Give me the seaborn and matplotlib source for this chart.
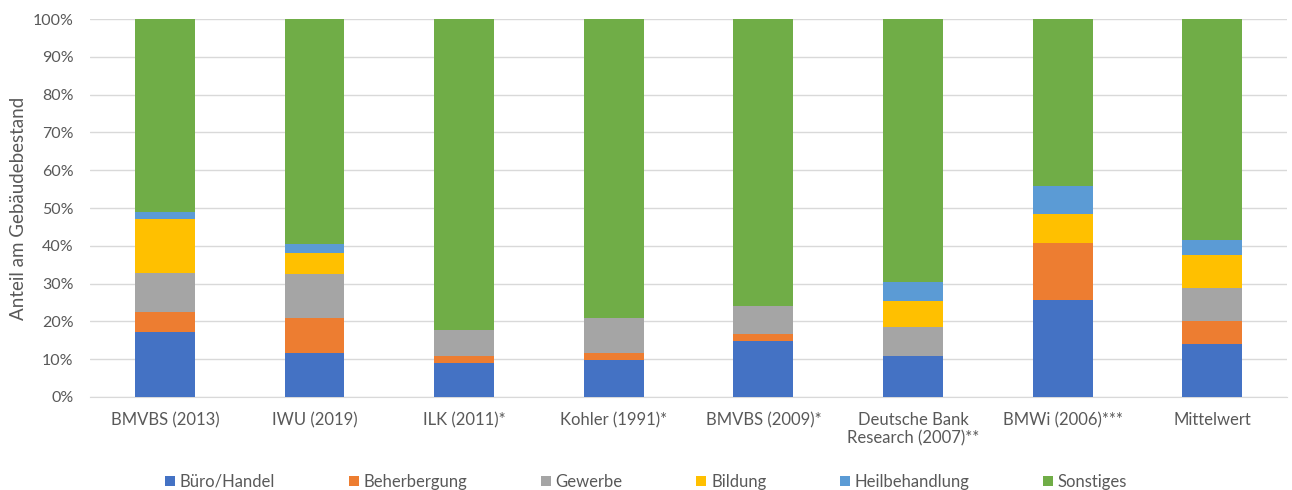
import numpy as np
import matplotlib.pyplot as plt
from matplotlib.ticker import PercentFormatter
from matplotlib.patches import Patch
import seaborn as sns

studien = ["BMVBS (2013)", "IWU (2019)", "ILK (2011)*", "Kohler (1991)*", "BMVBS (2009)*",
           "Deutsche Bank\nResearch (2007)**", "BMWi (2006)***", "Mittelwert"]

# Anteile in %
buero = [17.2, 11.7, 9.1, 9.8, 14.7, 10.9, 25.7, 14.1]
beherbergung = [5.4, 9.2, 1.8, 1.9, 2.0, 0.0, 15.1, 6.0]
gewerbe = [10.3, 11.5, 6.8, 9.3, 7.3, 7.7, 0.0, 8.7]
bildung = [14.3, 5.8, 0.0, 0.0, 0.0, 6.9, 7.5, 8.7]
heilbehandlung = [1.8, 2.4, 0.0, 0.0, 0.0, 4.8, 7.4, 4.1]
sonstiges = [51.0, 59.4, 82.3, 79.0, 76.0, 69.7, 44.3, 58.4]

kategorien = ["Büro/Handel", "Beherbergung", "Gewerbe", "Bildung", "Heilbehandlung", "Sonstiges"]
farben = ["#4472C4", "#ED7D31", "#A5A5A5", "#FFC000", "#5B9BD5", "#70AD47"]

sns.set_style("white")
plt.rcParams['font.family'] = ['Lato', 'DejaVu Sans']

fig = plt.figure(figsize=(12.92, 4.90), dpi=100)
ax = fig.add_axes([0.0697, 0.19, 0.9265, 0.771])

serien = np.array([buero, beherbergung, gewerbe, bildung, heilbehandlung, sonstiges])
kumuliert = np.cumsum(serien, axis=0)

# stacked bars: draw cumulative totals from top down so the lower ones overlay
for i in range(len(kategorien) - 1, -1, -1):
    sns.barplot(x=studien, y=kumuliert[i], color=farben[i], width=0.4,
                saturation=1, ax=ax, zorder=3, linewidth=0)

ax.set_ylim(0, 100)
ax.set_xlim(-0.5, len(studien) - 0.5)
ax.set_yticks(np.arange(0, 101, 10))
ax.yaxis.set_major_formatter(PercentFormatter(100, decimals=0))
ax.grid(axis="y", color="#D9D9D9", linewidth=1, zorder=0)
ax.set_axisbelow(True)
for s in ["top", "right", "left"]:
    ax.spines[s].set_visible(False)
ax.spines["bottom"].set_color("#D9D9D9")
ax.tick_params(axis="both", length=0, colors="#595959")
ax.tick_params(axis="x", pad=11, labelsize=12)
ax.tick_params(axis="y", pad=12, labelsize=11.5)
ax.set_ylabel("Anteil am Gebäudebestand", fontsize=13.5, color="#595959", labelpad=4)
ax.set_xlabel("")

handles = [Patch(facecolor=f, edgecolor="none") for f in farben]
fig.legend(handles, kategorien, loc="lower center", ncol=6, frameon=False,
           bbox_to_anchor=(0.5, -0.03), fontsize=12, handlelength=0.6, handleheight=0.6,
           handletextpad=0.3, columnspacing=4.4, labelcolor="#595959")

fig.savefig("out.png", dpi=100)
